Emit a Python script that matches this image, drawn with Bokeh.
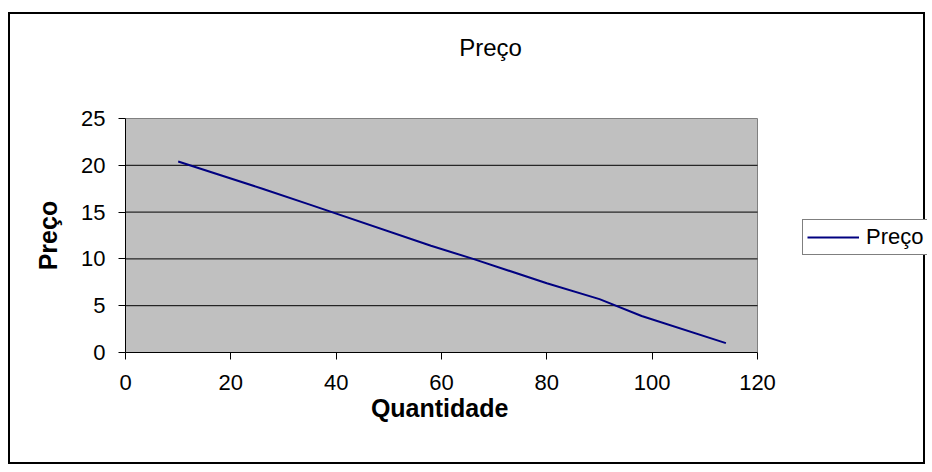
from bokeh.plotting import figure
from bokeh.models import (Range1d, FixedTicker, Legend, LegendItem, Label,
                          ColumnDataSource)
from bokeh.embed import file_html
from bokeh.resources import INLINE

# ---- data ----
quantidade = [10, 26, 35, 58, 66, 80, 90, 98, 114]
preco = [20.4, 17.5, 15.8, 11.4, 10.0, 7.4, 5.7, 3.9, 1.0]
x_ticks = [0, 20, 40, 60, 80, 100, 120]
y_ticks = [0, 5, 10, 15, 20, 25]
grid_ticks = [5, 10, 15, 20]
title_text = "Preço"
x_label = "Quantidade"
y_label = "Preço"
series_name = "Preço"

FONT = "Liberation Sans"
NBSP = "\u00a0"

# ---- layout geometry (canvas sits inside a 2px CSS border) ----
W, H = 917, 452
LEFT, BOTTOM = 115, 114          # side panels for the axes
AREA_W, AREA_H = 632, 234        # the grey plotting area in pixels
frame_w, frame_h = W - LEFT, H - BOTTOM
x_min, x_max = min(x_ticks), max(x_ticks)
y_min, y_max = min(y_ticks), max(y_ticks)
x_end = x_max * frame_w / AREA_W
y_end = y_max * frame_h / AREA_H

p = figure(width=W, height=H, output_backend="svg", toolbar_location=None,
           x_range=Range1d(x_min, x_end), y_range=Range1d(y_min, y_end),
           min_border_left=LEFT, min_border_right=0,
           min_border_top=0, min_border_bottom=BOTTOM)
p.margin = (12, 0, 0, 8)
p.styles = {"border": "2px solid black"}

p.background_fill_color = "white"
p.border_fill_color = "white"
p.outline_line_color = None

# grey plotting area
p.quad(left=x_min, right=x_max, bottom=y_min, top=y_max,
       fill_color="#C0C0C0", line_color="#808080", line_width=1, level="image")

# horizontal gridlines limited to the plotting area
grid_src = ColumnDataSource(dict(x0=[x_min] * len(grid_ticks),
                                 x1=[x_max] * len(grid_ticks),
                                 y=grid_ticks))
p.segment(x0="x0", x1="x1", y0="y", y1="y", source=grid_src,
          line_color="black", line_width=1)

src = ColumnDataSource(dict(x=quantidade, y=preco))
r = p.line("x", "y", source=src, line_color="#000080", line_width=2)

# axes
for ax in (p.xaxis[0], p.yaxis[0]):
    ax.axis_line_color = "black"
    ax.axis_line_width = 1
    ax.major_tick_line_color = "black"
    ax.major_tick_in = 0
    ax.major_tick_out = 7
    ax.minor_tick_line_color = None
    ax.major_label_text_font = FONT
    ax.major_label_text_font_size = "22px"
    ax.major_label_text_color = "black"
    ax.axis_label_text_font = FONT
    ax.axis_label_text_font_size = "25px"
    ax.axis_label_text_font_style = "bold"
    ax.axis_label_text_color = "black"

p.xaxis[0].ticker = FixedTicker(ticks=x_ticks)
p.yaxis[0].ticker = FixedTicker(ticks=y_ticks)
p.xaxis[0].bounds = (x_min, x_max)
p.yaxis[0].bounds = (y_min, y_max)
# axis labels are centred on the whole frame; trailing no-break spaces
# move the visible words back over the grey plotting area
p.xaxis[0].axis_label = x_label + NBSP * 25
p.yaxis[0].axis_label = y_label + NBSP * 15
p.xaxis[0].major_label_standoff = 15
p.yaxis[0].major_label_standoff = 13
p.xaxis[0].axis_label_standoff = 1
p.yaxis[0].axis_label_standoff = 16

p.xgrid.visible = False
p.ygrid.visible = False

# title (centre at page pixel 490, 47)
p.add_layout(Label(x=x_max * (490 - 125) / AREA_W,
                   y=y_max * (352 - 47) / AREA_H,
                   text=title_text, text_align="center", text_baseline="middle",
                   text_font=FONT, text_font_size="24px",
                   text_color="black"))

# legend
legend = Legend(items=[LegendItem(label=series_name, renderers=[r])],
                location=(677, 97), orientation="vertical",
                border_line_color="black", border_line_width=1,
                background_fill_color="white", background_fill_alpha=1,
                padding=4, margin=0, spacing=0,
                glyph_width=52, glyph_height=20, label_standoff=7,
                label_text_font=FONT, label_text_font_size="22px",
                label_text_color="black")
p.add_layout(legend, "center")

open("out.html", "w").write(file_html(p, INLINE))
